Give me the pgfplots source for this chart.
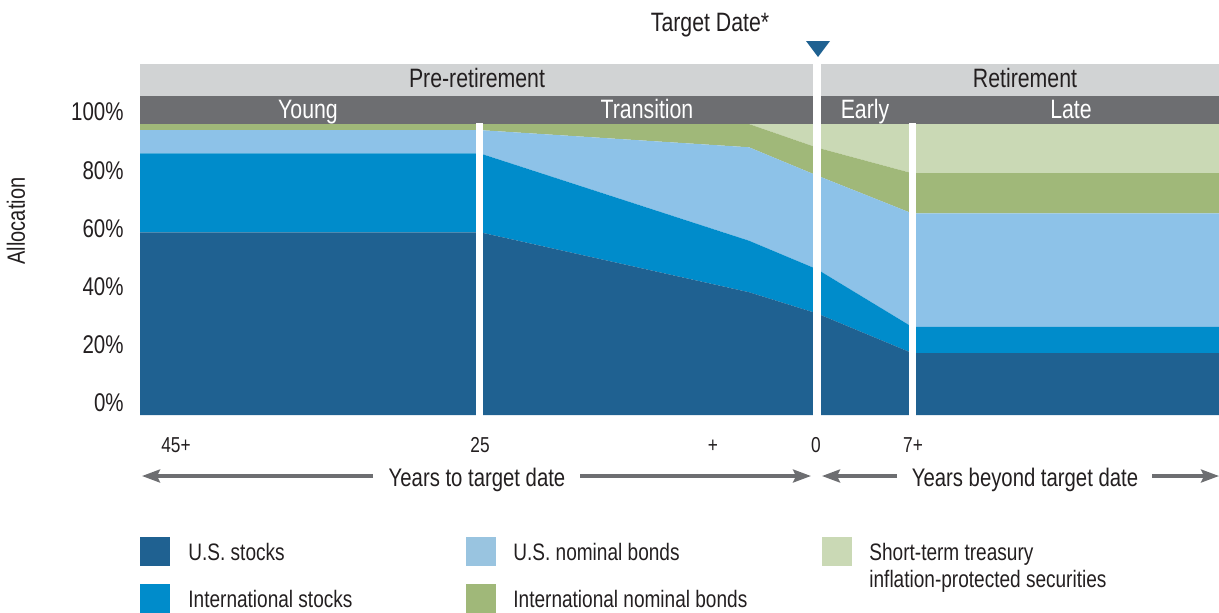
\documentclass[border=0pt]{standalone}
\usepackage{pgfplots}
\pgfplotsset{compat=1.18}
\usepackage{fontspec}
\setmainfont[FakeStretch=0.8]{Liberation Sans}
\usetikzlibrary{arrows.meta}
\definecolor{usst}{HTML}{1F6191}
\definecolor{intst}{HTML}{008CCB}
\definecolor{usbd}{HTML}{8DC2E8}
\definecolor{usbdleg}{HTML}{99C4E0}
\definecolor{intbd}{HTML}{A0B879}
\definecolor{tipscol}{HTML}{CAD9B5}
\definecolor{band}{HTML}{D1D3D4}
\definecolor{dband}{HTML}{6D6E71}
\definecolor{txt}{HTML}{231F20}
\newcommand{\bandfont}{\fontsize{13.3}{16}\selectfont}
\newcommand{\arrfont}{\fontsize{12.7}{15}\selectfont}
\newcommand{\tickfont}{\fontsize{12.8}{15}\selectfont}
\newcommand{\xlfont}{\fontsize{10.8}{13}\selectfont}
\newcommand{\legfont}{\fontsize{11.9}{14}\selectfont}
\begin{document}
\begin{tikzpicture}
\begin{axis}[at={(70pt,-207.5pt)}, anchor=south west, scale only axis,
  width=539.5pt, height=145.5pt,
  xmin=140, xmax=1219, ymin=0, ymax=100,
  stack plots=y, clip=false,
  axis line style={draw=none}, tick style={draw=none},
  xtick=\empty, ytick={0,20,40,60,80,100},
  yticklabels={0\%,20\%,40\%,60\%,80\%,100\%},
  yticklabel style={font=\tickfont, text=txt, inner sep=0pt, anchor=east, xshift=-8pt, yshift=6pt}]
\addplot[fill=usst, draw=none] coordinates {(140,62.8) (480,62.8) (749,42.2) (817,34.9) (912,21.3) (1219,21.3)} \closedcycle;
\addplot[fill=intst, draw=none] coordinates {(140,27.1) (480,27.1) (749,17.7) (817,15.2) (912,9.0) (1219,9.0)} \closedcycle;
\addplot[fill=usbd, draw=none] coordinates {(140,8.0) (480,8.0) (749,32.1) (817,32.2) (912,39.0) (1219,39.0)} \closedcycle;
\addplot[fill=intbd, draw=none] coordinates {(140,2.1) (480,2.1) (749,8.0) (817,9.6) (912,13.8) (1219,13.8)} \closedcycle;
\addplot[fill=tipscol, draw=none] coordinates {(140,0) (480,0) (749,0) (817,8.1) (912,16.9) (1219,16.9)} \closedcycle;
\end{axis}
\begin{scope}[x=0.5pt,y=-0.5pt]
% header bands
\fill[band] (140,64) rectangle (1219,96);
\fill[dband] (140,96) rectangle (1219,124);
% separators
\fill[white] (476,123) rectangle (483,416);
\fill[white] (813,62) rectangle (821,416);
\fill[white] (909,123) rectangle (916,416);
% target marker
\fill[usst] (806,41) -- (830,41) -- (818,57) -- cycle;
\node[anchor=base, inner sep=0pt, font=\bandfont, text=txt] at (710,31) {Target Date*};
% band labels
\node[anchor=base, inner sep=0pt, font=\bandfont, text=txt] at (477,87) {Pre-retirement};
\node[anchor=base, inner sep=0pt, font=\bandfont, text=txt] at (1025,87) {Retirement};
\node[anchor=base, inner sep=0pt, font=\bandfont, text=white] at (308,118) {Young};
\node[anchor=base, inner sep=0pt, font=\bandfont, text=white] at (647,118) {Transition};
\node[anchor=base, inner sep=0pt, font=\bandfont, text=white] at (865,118) {Early};
\node[anchor=base, inner sep=0pt, font=\bandfont, text=white] at (1071,118) {Late};
% y label
\node[rotate=90, inner sep=0pt, font=\fontsize{12.5}{15}\selectfont, text=txt] at (16,221) {Allocation};
% x labels
\node[anchor=base, inner sep=0pt, font=\xlfont, text=txt] at (176,452) {45+};
\node[anchor=base, inner sep=0pt, font=\xlfont, text=txt] at (480,452) {25};
\node[anchor=base, inner sep=0pt, font=\xlfont, text=txt] at (713,452) {+};
\node[anchor=base, inner sep=0pt, font=\xlfont, text=txt] at (816,452) {0};
\node[anchor=base, inner sep=0pt, font=\xlfont, text=txt] at (913,452) {7+};
% arrows
\draw[dband, line width=1.6pt, -{Stealth[length=9pt,width=6.5pt,inset=1.5pt]}] (373,476) -- (142,476);
\draw[dband, line width=1.6pt, -{Stealth[length=9pt,width=6.5pt,inset=1.5pt]}] (580,476) -- (811,476);
\draw[dband, line width=1.6pt, -{Stealth[length=9pt,width=6.5pt,inset=1.5pt]}] (897,476) -- (822,476);
\draw[dband, line width=1.6pt, -{Stealth[length=9pt,width=6.5pt,inset=1.5pt]}] (1152,476) -- (1219,476);
\node[anchor=base, inner sep=0pt, font=\arrfont, text=txt] at (477,486) {Years to target date};
\node[anchor=base, inner sep=0pt, font=\arrfont, text=txt] at (1025,486) {Years beyond target date};
% legend
\fill[usst] (140,537) rectangle (170,566);
\fill[intst] (140,584) rectangle (170,613);
\fill[usbdleg] (466,537) rectangle (496,566);
\fill[intbd] (466,584) rectangle (496,613);
\fill[tipscol] (822,537) rectangle (852,566);
\node[anchor=base west, inner sep=0pt, font=\legfont, text=txt] at (188,560) {U.S. stocks};
\node[anchor=base west, inner sep=0pt, font=\legfont, text=txt] at (188,607) {International stocks};
\node[anchor=base west, inner sep=0pt, font=\legfont, text=txt] at (513,560) {U.S. nominal bonds};
\node[anchor=base west, inner sep=0pt, font=\legfont, text=txt] at (513,607) {International nominal bonds};
\node[anchor=base west, inner sep=0pt, font=\legfont, text=txt] at (869,560) {Short-term treasury};
\node[anchor=base west, inner sep=0pt, font=\legfont, text=txt] at (869,587) {inflation-protected securities};
\pgfresetboundingbox
\path (0,0) rectangle (1219,612);
\end{scope}
\end{tikzpicture}
\end{document}
